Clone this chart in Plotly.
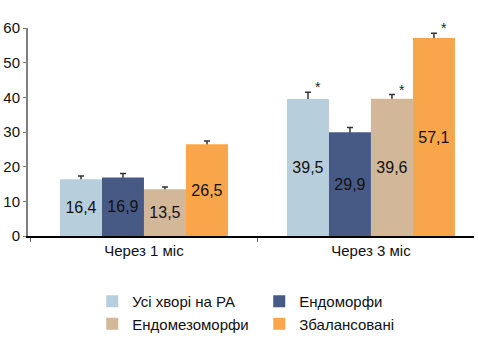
import plotly.graph_objects as go

categories = ["Через 1 міс", "Через 3 міс"]
series_names = ["Усі хворі на РА", "Ендоморфи", "Ендомезоморфи", "Збалансовані"]
series_values = [
    [16.4, 39.5],
    [16.9, 29.9],
    [13.5, 39.6],
    [26.5, 57.1],
]
series_errors = [
    [0.9, 2.0],
    [1.1, 1.4],
    [0.6, 1.2],
    [0.9, 1.4],
]
series_colors = ["#b7cfdc", "#475a86", "#d3b799", "#f9a64a"]
significant = [
    [False, True],
    [False, False],
    [False, True],
    [False, True],
]
y_ticks = [0, 10, 20, 30, 40, 50, 60]

FONT = "Liberation Sans, Arial, sans-serif"

n = len(series_names)
group_w = 0.74
bw = group_w / n

fig = go.Figure()
for i, (name, vals, errs, col) in enumerate(zip(series_names, series_values, series_errors, series_colors)):
    off = (i - (n - 1) / 2) * bw - bw / 2
    # error bar carrier (drawn first so the bar hides the lower half)
    fig.add_trace(go.Bar(
        x=categories, y=vals, width=bw, offset=off,
        marker=dict(color="rgba(0,0,0,0)", line=dict(width=0)),
        error_y=dict(type="data", array=errs, symmetric=True,
                     color="#333333", thickness=1.5, width=3),
        showlegend=False, hoverinfo="skip",
    ))
    fig.add_trace(go.Bar(
        name=name, x=categories, y=vals, width=bw, offset=off,
        marker=dict(color=col, line=dict(width=0)),
        text=[f"{v:.1f}".replace(".", ",") for v in vals],
        textposition="inside", insidetextanchor="middle",
        textfont=dict(family=FONT, size=16, color="#111111"),
        cliponaxis=False,
    ))

for i in range(n):
    for j, cat in enumerate(categories):
        if significant[i][j]:
            fig.add_annotation(
                x=j + (i - (n - 1) / 2) * bw, y=series_values[i][j] + series_errors[i][j],
                xref="x", yref="y", text="*", showarrow=False,
                xshift=10, yshift=5,
                font=dict(family=FONT, size=14, color="#222222"),
            )

fig.update_layout(
    width=478, height=354,
    margin=dict(l=28, r=4, t=28, b=118, autoexpand=False),
    barmode="overlay",
    plot_bgcolor="white", paper_bgcolor="white",
    separators=", ",
    font=dict(family=FONT, size=13, color="#111111"),
    showlegend=True,
    legend=dict(
        orientation="h", x=0.193, xref="container", xanchor="left",
        y=0.195, yref="container", yanchor="top",
        entrywidth=122, entrywidthmode="pixels",
        font=dict(family=FONT, size=15, color="#111111"),
        itemwidth=30, tracegroupgap=0, traceorder="normal",
    ),
    xaxis=dict(
        type="category", range=[-0.511, 1.454],
        showline=True, linecolor="#000000", linewidth=1.5,
        ticks="outside", tickson="boundaries", ticklen=4, tickcolor="#666666",
        tickfont=dict(family=FONT, size=15, color="#111111"),
        showgrid=False,
    ),
    yaxis=dict(
        range=[0, 60], tickvals=y_ticks, showline=True, linecolor="#808080", linewidth=2,
        ticks="outside", ticklen=3, tickcolor="#808080",
        tickfont=dict(family=FONT, size=15, color="#111111"),
        showgrid=False, zeroline=False,
    ),
)

fig.write_html("out.html")
